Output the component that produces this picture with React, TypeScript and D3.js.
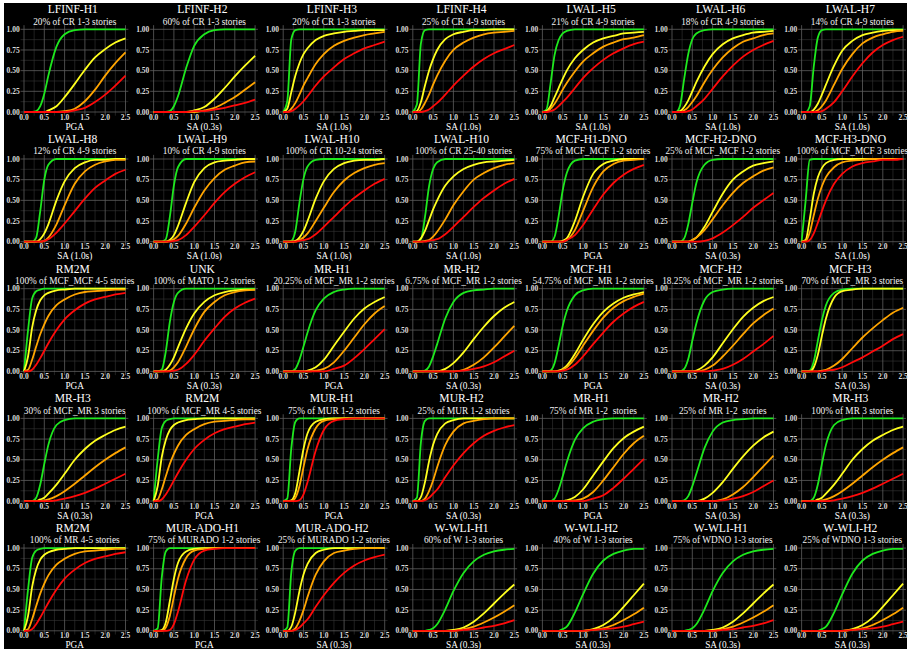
import React, { useRef, useEffect } from 'react';
import * as d3 from 'd3';

// intensity levels where every curve is sampled
const xGrid = [0, 0.1, 0.2, 0.3, 0.4, 0.5, 0.6, 0.8, 1.0, 1.25, 1.5, 1.75, 2.0, 2.25, 2.5];
const xTicks = [0, 0.5, 1, 1.5, 2, 2.5];
const yTicks = [0, 0.25, 0.5, 0.75, 1];

// probability of exceedance per damage state: slight, moderate, extensive, complete
const lfinfH1 = [
  [0, 0, 0, 0.01, 0.07, 0.22, 0.44, 0.79, 0.94, 0.99, 1, 1, 1, 1, 1],
  [0, 0, 0, 0, 0, 0, 0.02, 0.07, 0.18, 0.34, 0.51, 0.66, 0.76, 0.84, 0.89],
  [0, 0, 0, 0, 0, 0, 0, 0, 0.01, 0.04, 0.13, 0.27, 0.44, 0.59, 0.72],
  [0, 0, 0, 0, 0, 0, 0, 0, 0, 0.02, 0.05, 0.12, 0.21, 0.32, 0.44],
];
const lfinfH2 = [
  [0, 0, 0, 0, 0.01, 0.07, 0.19, 0.53, 0.8, 0.94, 0.99, 1, 1, 1, 1],
  [0, 0, 0, 0, 0, 0, 0, 0, 0.02, 0.06, 0.16, 0.29, 0.43, 0.56, 0.68],
  [0, 0, 0, 0, 0, 0, 0, 0, 0, 0.02, 0.05, 0.11, 0.18, 0.27, 0.36],
  [0, 0, 0, 0, 0, 0, 0, 0, 0.01, 0.01, 0.03, 0.05, 0.08, 0.11, 0.15],
];
const lfinfH3 = [
  [0, 0.13, 0.88, 0.99, 1, 1, 1, 1, 1, 1, 1, 1, 1, 1, 1],
  [0, 0.04, 0.24, 0.44, 0.59, 0.7, 0.77, 0.87, 0.92, 0.95, 0.97, 0.98, 0.99, 0.99, 0.99],
  [0, 0, 0.04, 0.11, 0.21, 0.32, 0.41, 0.58, 0.7, 0.8, 0.86, 0.9, 0.93, 0.95, 0.97],
  [0, 0, 0.01, 0.04, 0.08, 0.13, 0.19, 0.32, 0.43, 0.54, 0.64, 0.71, 0.77, 0.81, 0.85],
];
const lfinfH4 = [
  [0, 0.09, 0.83, 0.99, 1, 1, 1, 1, 1, 1, 1, 1, 1, 1, 1],
  [0, 0.01, 0.12, 0.32, 0.5, 0.64, 0.75, 0.88, 0.94, 0.97, 0.99, 0.99, 1, 1, 1],
  [0, 0, 0.03, 0.11, 0.21, 0.33, 0.44, 0.62, 0.75, 0.84, 0.9, 0.94, 0.96, 0.97, 0.98],
  [0, 0, 0, 0.01, 0.03, 0.07, 0.11, 0.21, 0.32, 0.44, 0.55, 0.64, 0.71, 0.76, 0.81],
];
const lwalH5 = [
  [0, 0.03, 0.34, 0.69, 0.87, 0.95, 0.98, 1, 1, 1, 1, 1, 1, 1, 1],
  [0, 0.01, 0.07, 0.18, 0.29, 0.4, 0.5, 0.65, 0.75, 0.84, 0.89, 0.92, 0.95, 0.96, 0.97],
  [0, 0, 0.04, 0.1, 0.18, 0.27, 0.35, 0.49, 0.61, 0.71, 0.79, 0.84, 0.88, 0.9, 0.93],
  [0, 0, 0.01, 0.03, 0.07, 0.12, 0.17, 0.29, 0.41, 0.53, 0.63, 0.71, 0.77, 0.82, 0.85],
];
const lwalH6 = [
  [0, 0, 0.08, 0.4, 0.7, 0.88, 0.95, 0.99, 1, 1, 1, 1, 1, 1, 1],
  [0, 0, 0.01, 0.06, 0.14, 0.25, 0.36, 0.55, 0.7, 0.82, 0.89, 0.93, 0.96, 0.97, 0.98],
  [0, 0, 0, 0.02, 0.06, 0.12, 0.19, 0.36, 0.51, 0.66, 0.77, 0.85, 0.89, 0.93, 0.95],
  [0, 0, 0, 0, 0.01, 0.03, 0.07, 0.16, 0.28, 0.43, 0.56, 0.67, 0.75, 0.81, 0.86],
];
const lwalH7 = [
  [0, 0, 0.07, 0.55, 0.9, 0.99, 1, 1, 1, 1, 1, 1, 1, 1, 1],
  [0, 0, 0, 0.03, 0.1, 0.21, 0.33, 0.56, 0.74, 0.86, 0.93, 0.96, 0.98, 0.99, 0.99],
  [0, 0, 0, 0, 0.02, 0.07, 0.14, 0.33, 0.52, 0.7, 0.83, 0.9, 0.94, 0.97, 0.98],
  [0, 0, 0, 0, 0, 0.01, 0.04, 0.12, 0.25, 0.43, 0.59, 0.72, 0.81, 0.87, 0.91],
];
const lwalH8 = [
  [0, 0, 0, 0.05, 0.37, 0.75, 0.93, 1, 1, 1, 1, 1, 1, 1, 1],
  [0, 0, 0, 0, 0.03, 0.1, 0.21, 0.5, 0.73, 0.89, 0.96, 0.99, 0.99, 1, 1],
  [0, 0, 0, 0, 0, 0.01, 0.05, 0.21, 0.44, 0.7, 0.85, 0.93, 0.97, 0.99, 0.99],
  [0, 0, 0, 0, 0, 0.01, 0.03, 0.11, 0.22, 0.37, 0.52, 0.65, 0.74, 0.82, 0.87],
];
const lwalH9 = [
  [0, 0, 0, 0.03, 0.3, 0.68, 0.9, 1, 1, 1, 1, 1, 1, 1, 1],
  [0, 0, 0, 0, 0.02, 0.08, 0.19, 0.47, 0.72, 0.89, 0.96, 0.98, 0.99, 1, 1],
  [0, 0, 0, 0, 0.01, 0.03, 0.07, 0.22, 0.41, 0.62, 0.77, 0.87, 0.92, 0.96, 0.97],
  [0, 0, 0, 0, 0, 0.01, 0.02, 0.08, 0.18, 0.32, 0.47, 0.6, 0.7, 0.78, 0.84],
];
const lwalH10Mid = [
  [0, 0, 0.01, 0.13, 0.47, 0.76, 0.91, 0.99, 1, 1, 1, 1, 1, 1, 1],
  [0, 0, 0, 0.01, 0.05, 0.13, 0.25, 0.52, 0.73, 0.88, 0.95, 0.98, 0.99, 0.99, 1],
  [0, 0, 0, 0, 0.02, 0.05, 0.1, 0.25, 0.41, 0.6, 0.74, 0.83, 0.89, 0.93, 0.95],
  [0, 0, 0, 0, 0.01, 0.02, 0.03, 0.09, 0.18, 0.3, 0.42, 0.53, 0.62, 0.7, 0.76],
];
const lwalH10High = [
  [0, 0, 0.03, 0.3, 0.67, 0.88, 0.96, 1, 1, 1, 1, 1, 1, 1, 1],
  [0, 0, 0.04, 0.13, 0.26, 0.39, 0.5, 0.68, 0.79, 0.88, 0.93, 0.96, 0.97, 0.98, 0.99],
  [0, 0, 0, 0.01, 0.02, 0.06, 0.12, 0.27, 0.44, 0.61, 0.75, 0.83, 0.89, 0.93, 0.95],
  [0, 0, 0, 0, 0.01, 0.02, 0.03, 0.09, 0.18, 0.3, 0.42, 0.53, 0.62, 0.7, 0.76],
];
const mcfH1Dno = [
  [0, 0, 0, 0.06, 0.31, 0.62, 0.83, 0.98, 1, 1, 1, 1, 1, 1, 1],
  [0, 0, 0, 0, 0, 0.01, 0.04, 0.25, 0.54, 0.82, 0.94, 0.98, 1, 1, 1],
  [0, 0, 0, 0, 0, 0, 0.02, 0.14, 0.37, 0.66, 0.85, 0.94, 0.98, 0.99, 1],
  [0, 0, 0, 0, 0, 0, 0.02, 0.08, 0.2, 0.39, 0.57, 0.71, 0.81, 0.88, 0.93],
];
const mcfH2Dno = [
  [0, 0, 0, 0.04, 0.21, 0.47, 0.71, 0.93, 0.99, 1, 1, 1, 1, 1, 1],
  [0, 0, 0, 0, 0, 0.02, 0.05, 0.18, 0.36, 0.58, 0.75, 0.85, 0.92, 0.95, 0.97],
  [0, 0, 0, 0, 0, 0.02, 0.05, 0.14, 0.27, 0.44, 0.59, 0.71, 0.79, 0.86, 0.9],
  [0, 0, 0, 0, 0, 0, 0, 0.01, 0.04, 0.11, 0.2, 0.3, 0.41, 0.5, 0.59],
];
const mcfH3Dno = [
  [0, 0.5, 0.99, 1, 1, 1, 1, 1, 1, 1, 1, 1, 1, 1, 1],
  [0, 0.02, 0.27, 0.58, 0.78, 0.89, 0.95, 0.99, 1, 1, 1, 1, 1, 1, 1],
  [0, 0.01, 0.11, 0.32, 0.52, 0.67, 0.78, 0.9, 0.96, 0.98, 0.99, 1, 1, 1, 1],
  [0, 0, 0.02, 0.1, 0.23, 0.37, 0.5, 0.7, 0.82, 0.91, 0.95, 0.97, 0.99, 0.99, 1],
];
const rm2m = [
  [0, 0.5, 0.88, 0.97, 0.99, 1, 1, 1, 1, 1, 1, 1, 1, 1, 1],
  [0, 0.18, 0.53, 0.74, 0.86, 0.92, 0.95, 0.98, 0.99, 1, 1, 1, 1, 1, 1],
  [0, 0.02, 0.14, 0.3, 0.45, 0.57, 0.67, 0.8, 0.87, 0.93, 0.96, 0.97, 0.98, 0.99, 0.99],
  [0, 0, 0.02, 0.08, 0.16, 0.25, 0.34, 0.5, 0.63, 0.74, 0.82, 0.87, 0.9, 0.93, 0.95],
];
const unk = [
  [0, 0, 0.02, 0.24, 0.6, 0.84, 0.95, 1, 1, 1, 1, 1, 1, 1, 1],
  [0, 0, 0, 0.02, 0.08, 0.17, 0.29, 0.52, 0.7, 0.84, 0.92, 0.96, 0.98, 0.99, 0.99],
  [0, 0, 0, 0, 0.01, 0.05, 0.11, 0.3, 0.51, 0.72, 0.84, 0.92, 0.96, 0.98, 0.99],
  [0, 0, 0, 0, 0, 0.01, 0.02, 0.09, 0.2, 0.37, 0.52, 0.66, 0.76, 0.83, 0.88],
];
const mrH1 = [
  [0, 0, 0, 0.03, 0.14, 0.3, 0.47, 0.74, 0.88, 0.96, 0.99, 1, 1, 1, 1],
  [0, 0, 0, 0, 0, 0, 0.01, 0.05, 0.14, 0.31, 0.48, 0.64, 0.76, 0.84, 0.9],
  [0, 0, 0, 0, 0, 0, 0, 0.01, 0.03, 0.11, 0.25, 0.41, 0.57, 0.7, 0.79],
  [0, 0, 0, 0, 0, 0, 0, 0, 0, 0.03, 0.07, 0.16, 0.27, 0.39, 0.51],
];
const mrH2 = [
  [0, 0, 0, 0.01, 0.06, 0.18, 0.33, 0.64, 0.84, 0.95, 0.98, 0.99, 1, 1, 1],
  [0, 0, 0, 0, 0, 0, 0, 0.03, 0.1, 0.23, 0.39, 0.54, 0.67, 0.77, 0.84],
  [0, 0, 0, 0, 0, 0, 0, 0, 0, 0.02, 0.08, 0.17, 0.29, 0.42, 0.55],
  [0, 0, 0, 0, 0, 0, 0, 0, 0, 0.01, 0.03, 0.06, 0.11, 0.18, 0.25],
];
const mcfH1 = [
  [0, 0, 0.01, 0.1, 0.31, 0.55, 0.73, 0.92, 0.98, 1, 1, 1, 1, 1, 1],
  [0, 0, 0, 0, 0.01, 0.03, 0.07, 0.21, 0.38, 0.57, 0.72, 0.82, 0.89, 0.93, 0.96],
  [0, 0, 0, 0, 0, 0.02, 0.05, 0.16, 0.31, 0.49, 0.65, 0.77, 0.85, 0.9, 0.94],
  [0, 0, 0, 0, 0, 0.01, 0.02, 0.08, 0.18, 0.33, 0.47, 0.6, 0.7, 0.78, 0.84],
];
const mcfH2 = [
  [0, 0, 0, 0.03, 0.15, 0.37, 0.58, 0.86, 0.96, 0.99, 1, 1, 1, 1, 1],
  [0, 0, 0, 0, 0, 0, 0.01, 0.07, 0.17, 0.34, 0.51, 0.66, 0.77, 0.85, 0.9],
  [0, 0, 0, 0, 0, 0, 0, 0.02, 0.07, 0.18, 0.31, 0.45, 0.58, 0.68, 0.76],
  [0, 0, 0, 0, 0, 0, 0, 0, 0.01, 0.03, 0.08, 0.15, 0.24, 0.33, 0.43],
];
const mcfH3 = [
  [0, 0, 0.01, 0.12, 0.37, 0.62, 0.8, 0.95, 0.99, 1, 1, 1, 1, 1, 1],
  [0, 0, 0, 0.05, 0.2, 0.43, 0.64, 0.89, 0.97, 0.99, 1, 1, 1, 1, 1],
  [0, 0, 0, 0, 0, 0.01, 0.02, 0.07, 0.15, 0.28, 0.41, 0.52, 0.62, 0.71, 0.77],
  [0, 0, 0, 0, 0, 0, 0.01, 0.02, 0.05, 0.11, 0.17, 0.24, 0.31, 0.39, 0.45],
];
const mrH3 = [
  [0, 0, 0, 0.04, 0.2, 0.45, 0.68, 0.92, 0.98, 1, 1, 1, 1, 1, 1],
  [0, 0, 0, 0, 0.02, 0.04, 0.09, 0.2, 0.33, 0.5, 0.63, 0.73, 0.8, 0.86, 0.9],
  [0, 0, 0, 0, 0, 0.01, 0.02, 0.06, 0.12, 0.21, 0.31, 0.41, 0.5, 0.58, 0.65],
  [0, 0, 0, 0, 0, 0, 0, 0.01, 0.03, 0.06, 0.1, 0.15, 0.21, 0.27, 0.33],
];
const murH1 = [
  [0, 0.03, 0.64, 0.96, 1, 1, 1, 1, 1, 1, 1, 1, 1, 1, 1],
  [0, 0, 0.01, 0.1, 0.36, 0.63, 0.82, 0.96, 0.99, 1, 1, 1, 1, 1, 1],
  [0, 0, 0, 0.04, 0.18, 0.41, 0.63, 0.88, 0.97, 0.99, 1, 1, 1, 1, 1],
  [0, 0, 0, 0, 0.01, 0.08, 0.23, 0.61, 0.86, 0.97, 0.99, 1, 1, 1, 1],
];
const murH2 = [
  [0, 0.04, 0.71, 0.97, 1, 1, 1, 1, 1, 1, 1, 1, 1, 1, 1],
  [0, 0, 0.05, 0.23, 0.48, 0.68, 0.81, 0.94, 0.98, 1, 1, 1, 1, 1, 1],
  [0, 0, 0, 0.03, 0.12, 0.25, 0.41, 0.68, 0.84, 0.94, 0.97, 0.99, 1, 1, 1],
  [0, 0, 0, 0.01, 0.04, 0.09, 0.14, 0.29, 0.43, 0.58, 0.7, 0.79, 0.85, 0.89, 0.92],
];
const wWliH1 = [
  [0, 0, 0, 0, 0.01, 0.03, 0.08, 0.26, 0.48, 0.7, 0.84, 0.92, 0.96, 0.98, 0.99],
  [0, 0, 0, 0, 0, 0, 0, 0, 0.01, 0.04, 0.11, 0.21, 0.33, 0.45, 0.56],
  [0, 0, 0, 0, 0, 0, 0, 0, 0, 0.02, 0.05, 0.1, 0.16, 0.23, 0.31],
  [0, 0, 0, 0, 0, 0, 0, 0, 0, 0.01, 0.02, 0.04, 0.06, 0.09, 0.13],
];
const wWliH2 = [
  [0, 0, 0, 0, 0, 0.02, 0.05, 0.22, 0.44, 0.69, 0.85, 0.93, 0.97, 0.99, 0.99],
  [0, 0, 0, 0, 0, 0, 0, 0, 0, 0.02, 0.07, 0.16, 0.29, 0.43, 0.57],
  [0, 0, 0, 0, 0, 0, 0, 0, 0, 0.01, 0.03, 0.07, 0.13, 0.2, 0.28],
  [0, 0, 0, 0, 0, 0, 0, 0, 0, 0.01, 0.02, 0.03, 0.05, 0.08, 0.11],
];

const panelTitles = [
  'LFINF-H1', 'LFINF-H2', 'LFINF-H3', 'LFINF-H4', 'LWAL-H5', 'LWAL-H6', 'LWAL-H7',
  'LWAL-H8', 'LWAL-H9', 'LWAL-H10', 'LWAL-H10', 'MCF-H1-DNO', 'MCF-H2-DNO', 'MCF-H3-DNO',
  'RM2M', 'UNK', 'MR-H1', 'MR-H2', 'MCF-H1', 'MCF-H2', 'MCF-H3',
  'MR-H3', 'RM2M', 'MUR-H1', 'MUR-H2', 'MR-H1', 'MR-H2', 'MR-H3',
  'RM2M', 'MUR-ADO-H1', 'MUR-ADO-H2', 'W-WLI-H1', 'W-WLI-H2', 'W-WLI-H1', 'W-WLI-H2',
];
const panelSubtitles = [
  '20% of CR 1-3 stories', '60% of CR 1-3 stories', '20% of CR 1-3 stories', '25% of CR 4-9 stories',
  '21% of CR 4-9 stories', '18% of CR 4-9 stories', '14% of CR 4-9 stories',
  '12% of CR 4-9 stories', '10% of CR 4-9 stories', '100% of CR 10-24 stories', '100% of CR 25-40 stories',
  '75% of MCF_MCF 1-2 stories', '25% of MCF_MCF 1-2 stories', '100% of MCF_MCF 3 stories',
  '100% of MCF_MCF 4-5 stories', '100% of MATO 1-2 stories', '20.25% of MCF_MR 1-2 stories',
  '6.75% of MCF_MR 1-2 stories', '54.75% of MCF_MR 1-2 stories', '18.25% of MCF_MR 1-2 stories',
  '70% of MCF_MR 3 stories',
  '30% of MCF_MR 3 stories', '100% of MCF_MR 4-5 stories', '75% of MUR 1-2 stories', '25% of MUR 1-2 stories',
  '75% of MR 1-2  stories', '25% of MR 1-2  stories', '100% of MR 3 stories',
  '100% of MR 4-5 stories', '75% of MURADO 1-2 stories', '25% of MURADO 1-2 stories', '60% of W 1-3 stories',
  '40% of W 1-3 stories', '75% of WDNO 1-3 stories', '25% of WDNO 1-3 stories',
];
const panelAxes = [
  'PGA', 'SA (0.3s)', 'SA (1.0s)', 'SA (1.0s)', 'SA (1.0s)', 'SA (1.0s)', 'SA (1.0s)',
  'SA (1.0s)', 'SA (1.0s)', 'SA (1.0s)', 'SA (1.0s)', 'PGA', 'SA (0.3s)', 'SA (1.0s)',
  'PGA', 'SA (0.3s)', 'PGA', 'SA (0.3s)', 'PGA', 'SA (0.3s)', 'SA (0.3s)',
  'SA (0.3s)', 'PGA', 'PGA', 'SA (0.3s)', 'PGA', 'SA (0.3s)', 'SA (0.3s)',
  'PGA', 'PGA', 'SA (0.3s)', 'SA (0.3s)', 'SA (0.3s)', 'SA (0.3s)', 'SA (0.3s)',
];
const panelCurves = [
  lfinfH1, lfinfH2, lfinfH3, lfinfH4, lwalH5, lwalH6, lwalH7,
  lwalH8, lwalH9, lwalH10Mid, lwalH10High, mcfH1Dno, mcfH2Dno, mcfH3Dno,
  rm2m, unk, mrH1, mrH2, mcfH1, mcfH2, mcfH3,
  mrH3, rm2m, murH1, murH2, mrH1, mrH2, mrH3,
  rm2m, murH1, murH2, wWliH1, wWliH2, wWliH1, wWliH2,
];

const stateColors = ['#1ee81e', '#ffff1e', '#ffa500', '#ff0a0a'];

const serif = '"Liberation Serif", "DejaVu Serif", serif';

const App = () => {
  const ref = useRef(null);

  useEffect(() => {
    const width = 910;
    const height = 651;
    const colStep = 129.6;
    const rowStep = 129.7;
    const plotW = 101.5;
    const plotH = 82.7;

    const svg = d3.select(ref.current)
      .attr('width', width)
      .attr('height', height);
    svg.selectAll('*').remove();

    svg.append('rect').attr('width', width).attr('height', height).attr('fill', '#fff');
    svg.append('rect').attr('x', 4).attr('y', 3).attr('width', 903).attr('height', 646).attr('fill', '#000');

    panelCurves.forEach((curves, i) => {
      const col = i % 7;
      const row = Math.floor(i / 7);
      const left = 24 + col * colStep;
      const top = 29.3 + row * rowStep;

      const x = d3.scaleLinear().domain([0, 2.5]).range([left, left + plotW]);
      const y = d3.scaleLinear().domain([0, 1]).range([top + plotH, top]);
      const xMin = x(-0.085), xMax = x(2.57);
      const yMin = y(-0.045), yMax = y(1.05);

      const g = svg.append('g');

      // minor grid
      g.selectAll('line.vminor')
        .data(d3.range(0.25, 2.5, 0.5))
        .join('line')
          .attr('x1', d => x(d)).attr('x2', d => x(d))
          .attr('y1', yMin).attr('y2', yMax)
          .attr('stroke', '#363636').attr('stroke-width', 0.6);
      g.selectAll('line.hminor')
        .data(d3.range(0.125, 1, 0.25))
        .join('line')
          .attr('x1', xMin).attr('x2', xMax)
          .attr('y1', d => y(d)).attr('y2', d => y(d))
          .attr('stroke', '#363636').attr('stroke-width', 0.6);

      // major grid
      g.selectAll('line.vmajor')
        .data(xTicks)
        .join('line')
          .attr('x1', d => x(d)).attr('x2', d => x(d))
          .attr('y1', yMin).attr('y2', yMax)
          .attr('stroke', '#5e5e5e').attr('stroke-width', 0.8);
      g.selectAll('line.hmajor')
        .data(yTicks)
        .join('line')
          .attr('x1', xMin).attr('x2', xMax)
          .attr('y1', d => y(d)).attr('y2', d => y(d))
          .attr('stroke', '#5e5e5e').attr('stroke-width', 0.8);

      // tick labels
      g.selectAll('text.xt')
        .data(xTicks)
        .join('text')
          .attr('x', d => x(d))
          .attr('y', top + plotH + 7.6)
          .attr('text-anchor', 'middle')
          .attr('font-family', serif)
          .attr('font-size', 7.5)
          .attr('font-weight', 'bold')
          .attr('fill', '#dcdcdc')
          .text(d => d3.format('.1f')(d));
      g.selectAll('text.yt')
        .data(yTicks)
        .join('text')
          .attr('x', xMin - 0.8)
          .attr('y', d => y(d))
          .attr('dy', '0.35em')
          .attr('text-anchor', 'end')
          .attr('font-family', serif)
          .attr('font-size', 7.5)
          .attr('font-weight', 'bold')
          .attr('fill', '#dcdcdc')
          .text(d => d3.format('.2f')(d));

      // curves
      const line = d3.line()
        .x(d => x(d[0]))
        .y(d => y(d[1]))
        .curve(d3.curveMonotoneX);
      curves.forEach((vals, k) => {
        g.append('path')
          .datum(d3.zip(xGrid, vals))
          .attr('d', line)
          .attr('fill', 'none')
          .attr('stroke', stateColors[k])
          .attr('stroke-width', 1.8)
          .attr('stroke-linejoin', 'round');
      });

      const cx = left + plotW / 2;
      g.append('text')
        .attr('transform', `translate(${cx - 2},${top - 16}) scale(0.92,1)`)
        .attr('text-anchor', 'middle')
        .attr('font-family', serif)
        .attr('font-size', 12.6)
        .attr('fill', '#fff')
        .text(panelTitles[i]);
      g.append('text')
        .attr('x', cx)
        .attr('y', top - 4.8)
        .attr('text-anchor', 'middle')
        .attr('font-family', serif)
        .attr('font-size', 9.3)
        .attr('fill', '#f2f2f2')
        .style('white-space', 'pre')
        .text(panelSubtitles[i]);
      g.append('text')
        .attr('x', cx)
        .attr('y', top + plotH + 17.6)
        .attr('text-anchor', 'middle')
        .attr('font-family', serif)
        .attr('font-size', 9.3)
        .attr('fill', '#fff')
        .text(panelAxes[i]);
    });
  }, []);

  return (
    <svg ref={ref} style={{ position: 'absolute', left: 0, top: 0 }}>
    </svg>
  );
};

export default App;
